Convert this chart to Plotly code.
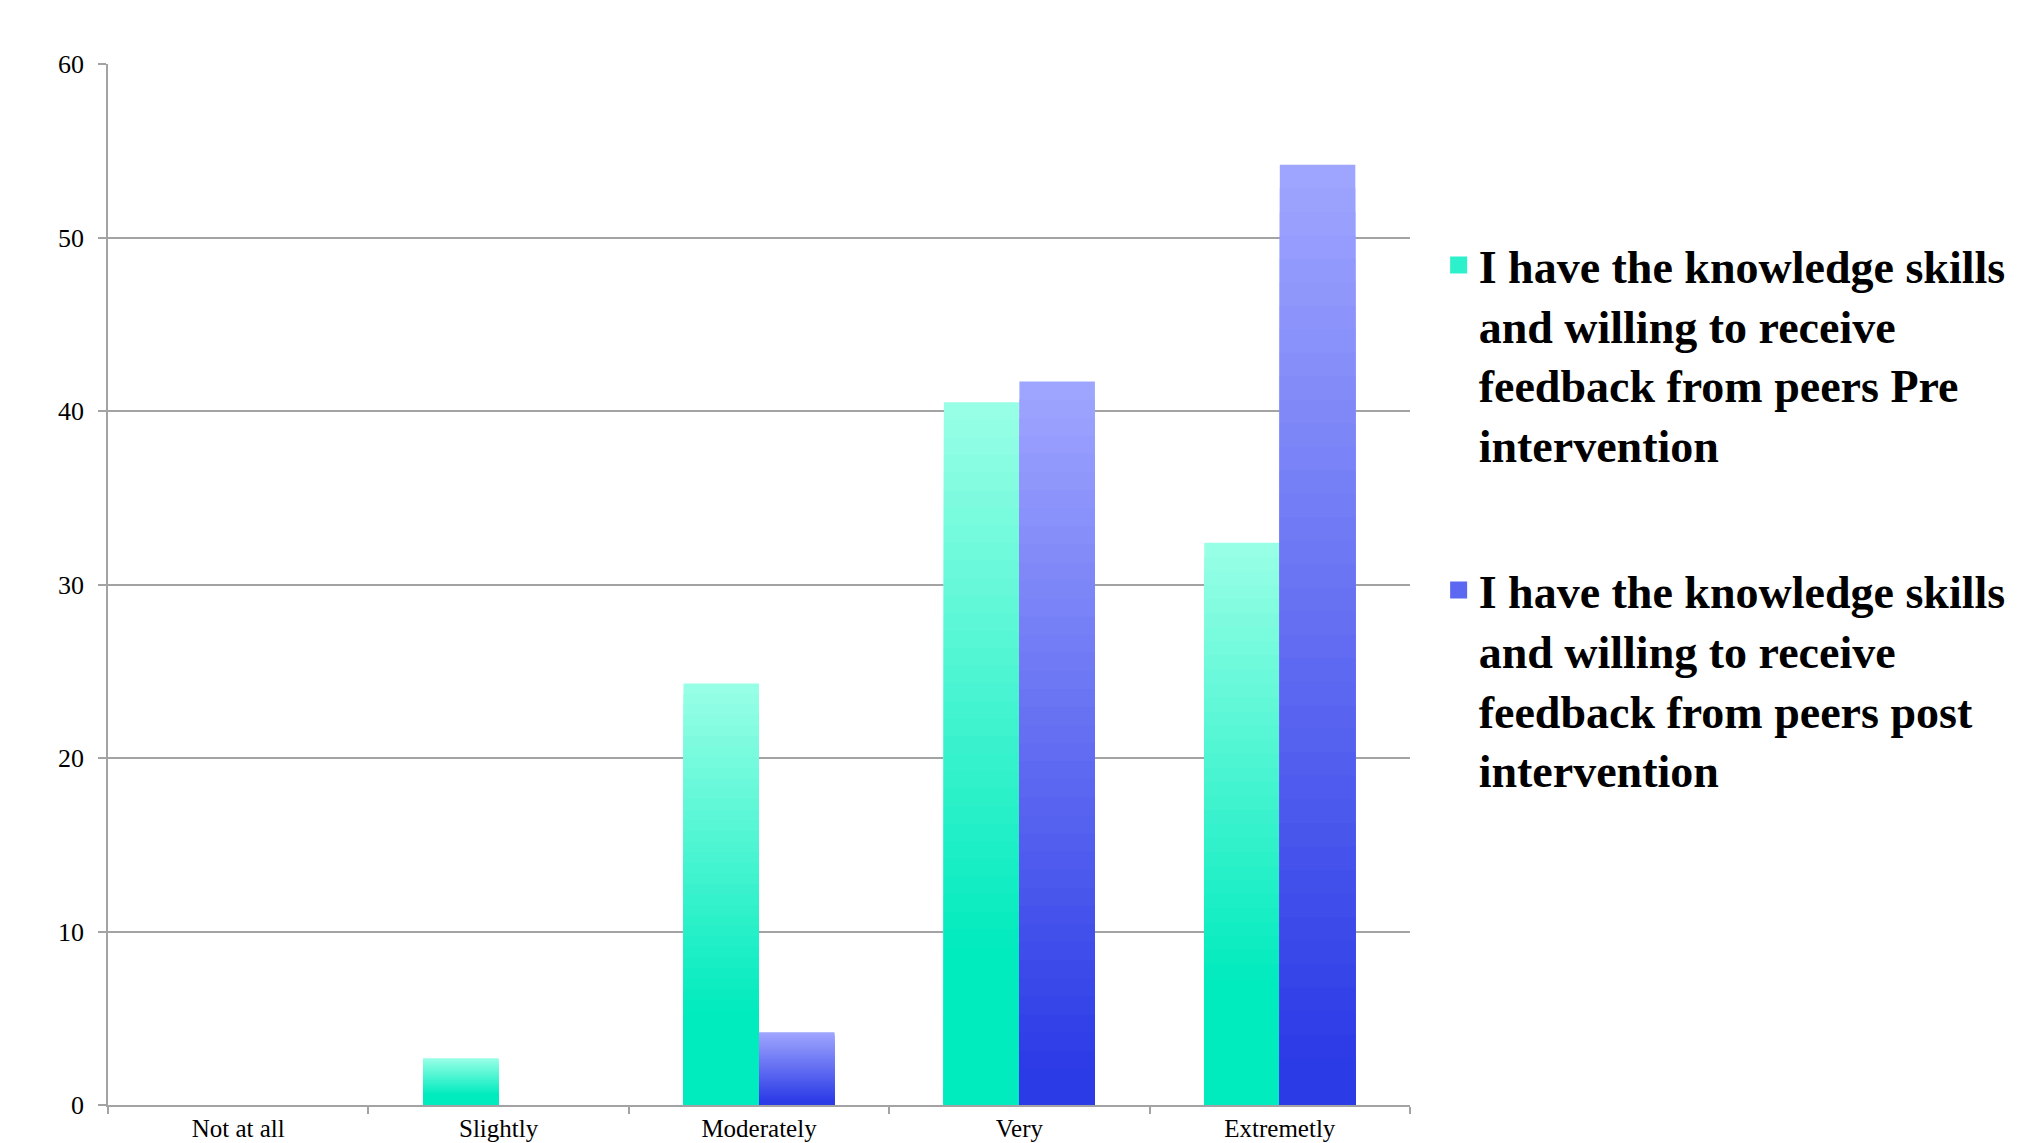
import plotly.graph_objects as go

categories = ["Not at all", "Slightly", "Moderately", "Very", "Extremetly"]
pre_values = [0, 2.7, 24.3, 40.5, 32.4]
post_values = [0, 0, 4.2, 41.7, 54.2]
pre_name = "I have the knowledge skills<br>and willing to receive<br>feedback from peers Pre<br>intervention"
post_name = "I have the knowledge skills<br>and willing to receive<br>feedback from peers post<br>intervention"

# gradient styling (bottom colour, top colour, fraction of height kept solid)
pre_bottom, pre_top, pre_solid = (0, 235, 190), (153, 255, 230), 0.22
post_bottom, post_top, post_solid = (43, 59, 230), (160, 166, 255), 0.05

N = 40

def grad_color(f, bottom, top, solid):
    t = 0 if f <= solid else (f - solid) / (1 - solid)
    c = [round(b + (tp - b) * t) for b, tp in zip(bottom, top)]
    return f"rgb({c[0]},{c[1]},{c[2]})"

fig = go.Figure()

def add_series(values, name, group, bottom, top, solid):
    # legend entry (no data of its own)
    legend_col = grad_color(0.45, bottom, top, solid)
    fig.add_trace(go.Bar(
        x=[None], y=[None], name=name, legendgroup=group, offsetgroup=group,
        showlegend=True, hoverinfo="skip",
        marker=dict(color=legend_col, line=dict(color=legend_col, width=20)),
    ))
    for k in range(N):
        f_top = 1 - k / N
        f_mid = 1 - (k + 0.5) / N
        fig.add_trace(go.Bar(
            x=categories,
            y=[v * f_top for v in values],
            name=name,
            legendgroup=group,
            offsetgroup=group,
            showlegend=False,
            marker=dict(color=grad_color(f_mid, bottom, top, solid), line=dict(width=0)),
            hoverinfo="skip" if k else "x+y",
        ))

add_series(pre_values, pre_name, "pre", pre_bottom, pre_top, pre_solid)
add_series(post_values, post_name, "post", post_bottom, post_top, post_solid)

grid = "#a3a3a3"
fig.update_layout(
    width=2042, height=1143,
    margin=dict(l=108, r=632, t=64, b=38),
    paper_bgcolor="white", plot_bgcolor="white",
    barmode="group", bargap=0.42, bargroupgap=0,
    font=dict(family="Liberation Serif", color="black"),
    legend=dict(
        x=1.022, xanchor="left", y=0.842, yanchor="top",
        traceorder="grouped", tracegroupgap=83, valign="top",
        font=dict(family="Liberation Serif", size=46, weight="bold", color="black"),
        bgcolor="rgba(0,0,0,0)",
    ),
    xaxis=dict(
        type="category", tickson="boundaries", ticks="outside", ticklen=7,
        tickcolor=grid, tickwidth=1.5, showline=True, linecolor=grid, linewidth=1.5,
        showgrid=False, automargin=False,
        tickfont=dict(size=25, family="Liberation Serif"),
    ),
    yaxis=dict(
        range=[0, 60], dtick=10, ticks="outside", ticklen=8, tickcolor=grid, tickwidth=1.5,
        showline=True, linecolor=grid, linewidth=1.5, showgrid=True, gridcolor=grid,
        gridwidth=1.5, zeroline=False, automargin=False, ticklabelstandoff=9,
        tickfont=dict(size=26, family="Liberation Serif"),
    ),
)

fig.write_html("out.html")
